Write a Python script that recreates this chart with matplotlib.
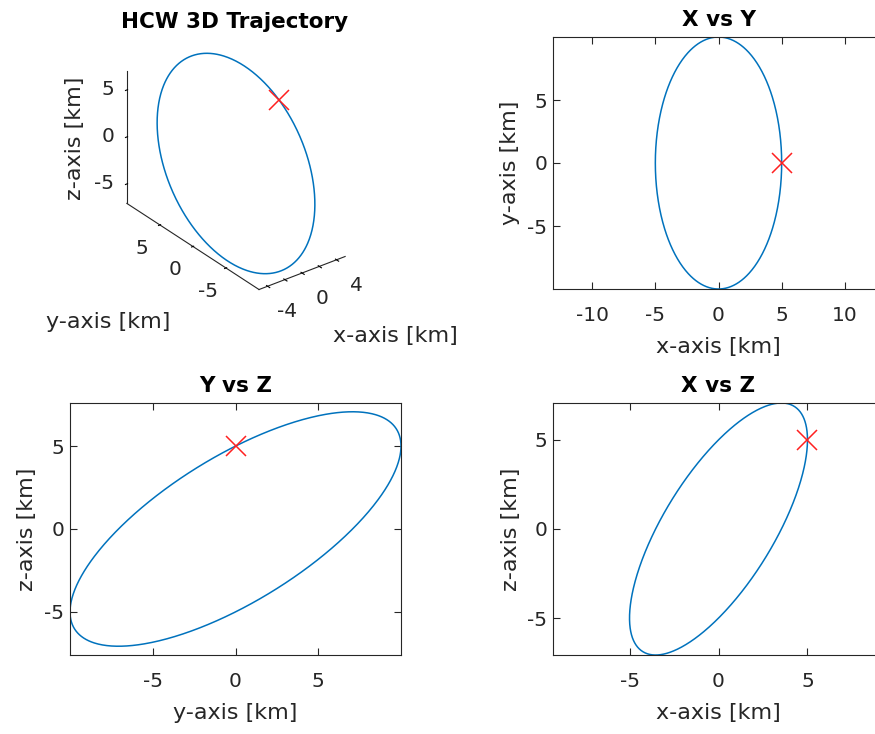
import numpy as np
import matplotlib
matplotlib.use('Agg')
import matplotlib.pyplot as plt
from mpl_toolkits.mplot3d import proj3d

plt.rcParams['font.family'] = ['DejaVu Sans']
plt.rcParams['axes.unicode_minus'] = False

# relative orbit (km)
x_amp = 5.0      # radial amplitude
y_amp = 10.0     # along-track amplitude
z_cos = 5.0      # cross-track, cos part
z_sin = 5.0      # cross-track, sin part
start_pt = [5.0, 0.0, 5.0]

x3d_ticks = [-4, -2, 0, 2, 4]
x3d_labels = ['-4', '', '0', '', '4']
y3d_ticks = [-5, 0, 5]
z3d_ticks = [-5, 0, 5]

theta = np.linspace(0, 2 * np.pi, 721)
x = x_amp * np.cos(theta)
y = y_amp * np.sin(theta)
z = z_cos * np.cos(theta) + z_sin * np.sin(theta)

W, H = 875, 734
txt = '#262626'
blue = '#0072BD'
red = '#FF2020'
tick_fs = 14.5
lab_fs = 16
tit_fs = 15.5

fig = plt.figure(figsize=(W / 100, H / 100), dpi=100)


def rect(l, t, r, b):
    return [l / W, 1 - b / H, (r - l) / W, (b - t) / H]


def style2d(ax):
    ax.tick_params(direction='in', top=True, right=True, length=5, width=0.8,
                   colors=txt, labelsize=tick_fs)
    ax.tick_params(axis='x', pad=12)
    ax.tick_params(axis='y', pad=4)
    for s in ax.spines.values():
        s.set_color(txt)
        s.set_linewidth(0.8)


# ---- X vs Y
ax1 = fig.add_axes(rect(553, 37, 884, 289))
ax1.plot(x, y, color=blue, lw=1.1)
ax1.plot(start_pt[0], start_pt[1], 'x', color=red, ms=14, mew=1.1)
ax1.set_xlim(-13.1, 13.1)
ax1.set_ylim(-10, 10)
ax1.set_xticks([-10, -5, 0, 5, 10])
ax1.set_yticks([-5, 0, 5])
ax1.set_xlabel('x-axis [km]', fontsize=lab_fs, color=txt, labelpad=9)
ax1.set_ylabel('y-axis [km]', fontsize=lab_fs, color=txt, labelpad=5)
ax1.set_title('X vs Y', fontsize=tit_fs, fontweight='bold', pad=8)
style2d(ax1)

# ---- Y vs Z
ax2 = fig.add_axes(rect(70, 403, 401, 655))
ax2.plot(y, z, color=blue, lw=1.1)
ax2.plot(start_pt[1], start_pt[2], 'x', color=red, ms=14, mew=1.1)
ax2.set_xlim(-10, 10)
ax2.set_ylim(-7.6, 7.6)
ax2.set_xticks([-5, 0, 5])
ax2.set_yticks([-5, 0, 5])
ax2.set_xlabel('y-axis [km]', fontsize=lab_fs, color=txt, labelpad=9)
ax2.set_ylabel('z-axis [km]', fontsize=lab_fs, color=txt, labelpad=5)
ax2.set_title('Y vs Z', fontsize=tit_fs, fontweight='bold', pad=8)
style2d(ax2)

# ---- X vs Z
ax3 = fig.add_axes(rect(553, 403, 884, 655))
ax3.plot(x, z, color=blue, lw=1.1)
ax3.plot(start_pt[0], start_pt[2], 'x', color=red, ms=14, mew=1.1)
ax3.set_xlim(-9.3, 9.3)
ax3.set_ylim(-7.07, 7.07)
ax3.set_xticks([-5, 0, 5])
ax3.set_yticks([-5, 0, 5])
ax3.set_xlabel('x-axis [km]', fontsize=lab_fs, color=txt, labelpad=9)
ax3.set_ylabel('z-axis [km]', fontsize=lab_fs, color=txt, labelpad=5)
ax3.set_title('X vs Z', fontsize=tit_fs, fontweight='bold', pad=8)
style2d(ax3)

# ---- 3D
ax0 = fig.add_axes(rect(60, 20, 400, 360), projection='3d')
ax0.plot(x, y, z, color=blue, lw=1.1)
ax0.plot([start_pt[0]], [start_pt[1]], [start_pt[2]], 'x', color=red, ms=14, mew=1.1)
xl, yl, zl = (-5, 5), (-10, 10), (-7.07, 7.07)
ax0.set_xlim(xl)
ax0.set_ylim(yl)
ax0.set_zlim(zl)
ax0.set_box_aspect((10, 20, 14.14))
ax0.set_proj_type('ortho')
ax0.view_init(elev=30, azim=-127.5)
ax0.set_xticks(x3d_ticks)
ax0.set_yticks(y3d_ticks)
ax0.set_zticks(z3d_ticks)
ax0.grid(False)
for a in (ax0.xaxis, ax0.yaxis, ax0.zaxis):
    a.set_tick_params(labelbottom=False, labeltop=False)
    a.pane.fill = False
    a.pane.set_edgecolor((1, 1, 1, 0))
    a.line.set_color(txt)
    a.line.set_linewidth(0.8)
    a._axinfo['tick']['color'] = txt


def px(ax, p):
    X, Y, _ = proj3d.proj_transform(p[0], p[1], p[2], ax.get_proj())
    return ax.transData.transform((X, Y))


# scale/shift the 3D box so that it lands where the reference has it
fig.canvas.draw()
o = px(ax0, (0, 0, 0))
dz = px(ax0, (0, 0, 5))[1] - o[1]
k = 47.0 / dz
pos = ax0.get_position()
cx, cy = (pos.x0 + pos.width / 2) * W, (pos.y0 + pos.height / 2) * H
tx, ty = 236, H - 163.5
ncx = tx - (o[0] - cx) * k
ncy = ty - (o[1] - cy) * k
nw, nh = pos.width * k, pos.height * k
ax0.set_position([ncx / W - nw / 2, ncy / H - nh / 2, nw, nh])
fig.canvas.draw()


def label3d(p, s, ha):
    u, v = px(ax0, p)
    fig.text(u / W, v / H, s, ha=ha, va='center', fontsize=tick_fs, color=txt)


# tick labels MATLAB-style, pushed away from the box along the world axes
for t, s in zip(x3d_ticks, x3d_labels):
    if s:
        label3d((t, yl[0] - 2.98, zl[0] - 1.33), s, 'center')
for t in y3d_ticks:
    label3d((xl[0] - 2.07, t, zl[0] - 1.74), str(t), 'center')
for t in z3d_ticks:
    label3d((xl[0] - 0.91, yl[1] + 0.70, t), str(t), 'right')

fig.text(234.5 / W, 1 - 28 / H, 'HCW 3D Trajectory', ha='center', va='baseline',
         fontsize=tit_fs, fontweight='bold')
fig.text(75 / W, 1 - 138 / H, 'z-axis [km]', ha='center', va='center',
         rotation=90, fontsize=lab_fs, color=txt)
fig.text(108 / W, 1 - 328 / H, 'y-axis [km]', ha='center', va='baseline',
         fontsize=lab_fs, color=txt)
fig.text(395 / W, 1 - 342 / H, 'x-axis [km]', ha='center', va='baseline',
         fontsize=lab_fs, color=txt)

fig.savefig('out.png', dpi=100)
